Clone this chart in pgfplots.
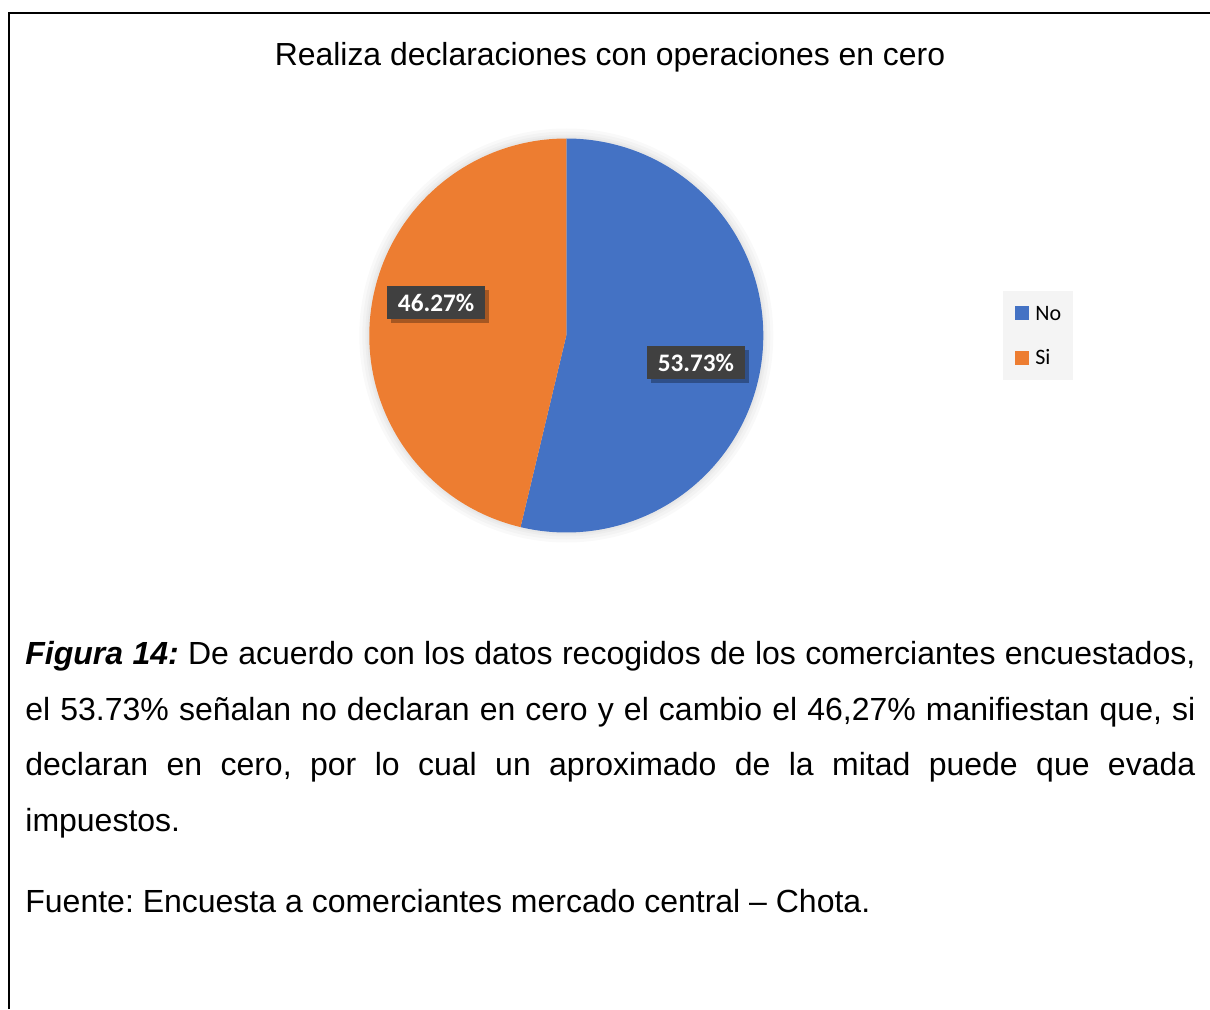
\documentclass[border=0pt]{standalone}
\usepackage{fontspec}
\setmainfont{Liberation Sans}
\newfontfamily\carlito{Carlito}
\usepackage{pgfplots}
\pgfplotsset{compat=1.18}
\usetikzlibrary{shadows}
\definecolor{pieblue}{HTML}{4472C4}
\definecolor{pieorange}{HTML}{ED7D31}
\definecolor{labelgray}{HTML}{404040}
\definecolor{legendbg}{HTML}{F4F4F4}
\tikzset{
  datalabel/.style={fill=labelgray, text=white, inner sep=0pt,
    font=\carlito\bfseries\fontsize{12.6pt}{14pt}\selectfont,
    minimum width=49pt, minimum height=16.5pt,
    drop shadow={shadow xshift=2pt, shadow yshift=-2pt, opacity=0.3, fill=black}},
  capline/.style={anchor=base west, inner sep=0pt, font=\fontsize{16pt}{18pt}\selectfont},
  glow/.style={fill=black, opacity=0.025}
}

\begin{document}
\frenchspacing
\begin{tikzpicture}[x=0.5pt, y=0.5pt]
\useasboundingbox (0,0) rectangle (1210,1009);
% frame
\draw[line width=1pt] (9,0) -- (9,995.7) -- (1210,995.7);
% chart title
\node[anchor=base, inner sep=0pt, font=\fontsize{15.95pt}{18pt}\selectfont] at (610,943.3)
  {Realiza declaraciones con operaciones en cero};

\begin{axis}[
  at={(283.15pt,336.75pt)}, anchor=origin,
  x=98.5pt, y=98.5pt,
  xmin=-1, xmax=1, ymin=-1, ymax=1,
  hide axis, clip=false,
  legend cell align=left,
  legend style={at={(axis description cs:1.697,0.5)}, anchor=center,
    fill=legendbg, draw=none, inner xsep=6pt, inner ysep=7.75pt,
    row sep=15.2pt, column sep=3.5pt,
    font=\carlito\fontsize{11pt}{13pt}\selectfont,
    nodes={inner sep=0pt, text height=7pt, text depth=0pt}},
]
% soft glow around the pie
\fill[glow] (axis cs:0,0) circle[radius=103.5pt];
\fill[glow] (axis cs:0,0) circle[radius=102pt];
\fill[glow] (axis cs:0,0) circle[radius=100.5pt];
\fill[glow] (axis cs:0,0) circle[radius=99.5pt];
% No = 53.73 %, Si = 46.27 %, clockwise from 12 o'clock
\fill[pieblue] (axis cs:0,0) -- (axis cs:0,1)
  arc[start angle=90, delta angle=-53.73*3.6, radius=98.5pt] -- cycle;
\fill[pieorange] (axis cs:0,0) -- (axis cs:{cos(90-53.73*3.6)},{sin(90-53.73*3.6)})
  arc[start angle=90-53.73*3.6, delta angle=-46.27*3.6, radius=98.5pt] -- cycle;

\node[datalabel] at (axis cs:-0.661,0.1675) {46.27\%};
\node[datalabel] at (axis cs:0.658,-0.137) {53.73\%};

\addlegendimage{legend image code/.code={\fill[pieblue] (0pt,-3pt) rectangle (6.4pt,3.4pt);}}
\addlegendentry{No}
\addlegendimage{legend image code/.code={\fill[pieorange] (0pt,-3pt) rectangle (6.4pt,3.4pt);}}
\addlegendentry{Si}
\end{axis}

% caption
\node[capline] at (25,345) {\makebox[585pt][s]{\textbf{\textit{Figura 14:}} De acuerdo con los datos recogidos de los comerciantes encuestados,}};
\node[capline] at (25,289) {\makebox[585pt][s]{el 53.73\% señalan no declaran en cero y el cambio el 46,27\% manifiestan que, si}};
\node[capline] at (25,233.5) {\makebox[585pt][s]{declaran en cero, por lo cual un aproximado de la mitad puede que evada}};
\node[capline] at (25,178) {impuestos.};
\node[capline] at (25,97) {Fuente: Encuesta a comerciantes mercado central – Chota.};
\end{tikzpicture}
\end{document}
